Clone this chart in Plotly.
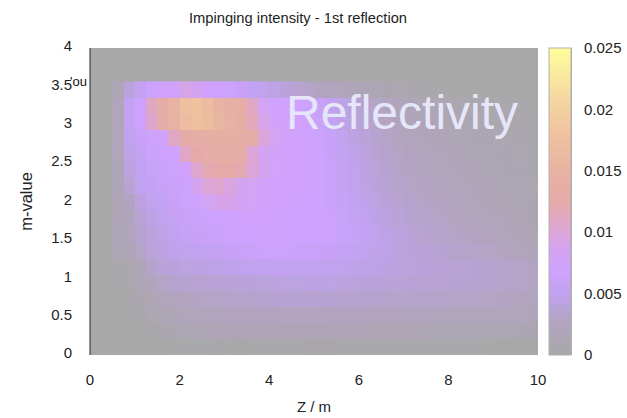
import plotly.graph_objects as go

x_values = [0.125 + 0.25 * i for i in range(40)]
y_values = [0.10, 0.31, 0.52, 0.73, 0.94, 1.15, 1.36, 1.57, 1.78, 1.99, 2.20, 2.41, 2.62, 2.83, 3.04, 3.25, 3.46]

# intensity in units of 0.001, listed from the top row down
r346 = [0,0,1.5,4,5.5,6.5,7,7.5,9,8.5,7,6.8,6.5,6,5.5,5,4.5,4,3.5,3,2.5,2.2,2,1.8,1.5,1.3,1.1,.9,.7,.5,.3,.2,.1,0,0,0,0,0,0,0]
r325 = [0,0,2,5.5,6.5,11,13,15,17.5,18,16.5,15,14.2,13.5,11,8,7.2,7,6.8,6.5,6,5.2,4.5,3.8,3.2,2.8,2.4,2,1.8,1.6,1.4,1.2,1,.9,.8,.7,.6,.5,.4,.3]
r304 = [0,0,2,5.5,6.5,10.5,13,14.5,16.5,17.5,17,15.5,14.5,14,11.5,9,7.5,7.2,7,6.7,6.2,5.5,4.8,4.1,3.5,3,2.6,2.3,2,1.8,1.6,1.4,1.2,1,.9,.8,.7,.6,.5,.4]
r283 = [0,0,2,5,6,6.5,7.5,11,12.5,13.5,14,14,14,13.5,13,10,8,7.4,7.1,6.9,6.4,5.8,5,4.4,3.8,3.3,2.9,2.5,2.2,2,1.8,1.6,1.4,1.2,1.1,1,.9,.8,.7,.5]
r262 = [0,0,2,4.5,5.5,6.2,6.5,6.8,11,12.5,13,13.5,13.5,13,10,8.5,7.6,7.2,7,7,6.6,6,5.4,4.8,4.2,3.6,3.2,2.8,2.5,2.3,2.1,1.9,1.7,1.5,1.3,1.2,1.1,1,.9,.7]
r241 = [0,0,1.8,4.2,5.2,5.8,6.2,6.5,7,10.5,12,12.5,12.5,12,10,8.5,7.8,7.4,7.1,7,6.7,6.2,5.6,5,4.4,3.8,3.4,3,2.7,2.5,2.3,2.1,1.9,1.7,1.5,1.4,1.3,1.1,1,.8]
r220 = [0,0,1.8,3.5,5,5.5,6,6.2,6.5,8.5,10,10.5,9.5,8.5,8,7.5,7.2,7,7,6.9,6.6,6.2,5.7,5.1,4.5,4,3.6,3.2,2.9,2.7,2.5,2.3,2.1,1.9,1.7,1.6,1.4,1.2,1.1,.9]
r199 = [0,0,1.6,2.5,4.2,5,5.5,6,6.4,6.7,8,8.8,8.8,8.2,7.8,7.4,7.1,7,6.9,6.8,6.6,6.3,5.9,5.4,4.9,4.3,3.9,3.5,3.2,2.9,2.7,2.5,2.3,2.1,1.9,1.8,1.6,1.4,1.2,1]
r178 = [0,0,1.5,2.2,3.6,4.5,5,5.6,6,6.2,6.4,6.6,6.9,7,7.1,7.1,7,6.9,6.8,6.8,6.6,6.4,6.1,5.7,5.2,4.7,4.2,3.8,3.4,3.2,3,2.8,2.6,2.4,2.2,2,1.9,1.7,1.4,1.1]
r157 = [0,0,1.3,2,3.2,4,4.5,5.2,5.6,5.8,6,6.2,6.5,6.7,6.8,6.9,6.9,6.9,6.8,6.7,6.6,6.4,6.1,5.8,5.4,5,4.6,4.2,3.8,3.5,3.3,3.1,2.9,2.7,2.5,2.4,2.2,2,1.7,1.4]
r136 = [0,0,1.2,1.8,2.8,3.8,4.4,4.8,5,5.2,5.4,5.6,5.8,6,6.2,6.4,6.5,6.5,6.3,6.2,6,5.8,5.6,5.3,5,4.8,4.5,4.2,4,3.8,3.6,3.4,3.2,3,2.9,2.8,2.6,2.4,2.1,1.8]
r115 = [0,0,.3,.8,1.8,3,3.8,4,4.3,4.4,4.5,4.6,4.8,5,5.1,5.2,5.3,5.3,5.3,5.3,5.2,5.1,5,4.9,4.7,4.6,4.4,4.2,4.1,3.9,3.8,3.7,3.6,3.5,3.4,3.3,3.2,3,2.8,2.5]
r094 = [0,0,.2,.7,1.4,2.2,2.8,3.2,3.4,3.5,3.6,3.7,3.8,3.9,4,4.1,4.2,4.3,4.3,4.4,4.4,4.3,4.2,4.1,4,3.9,3.8,3.8,3.7,3.6,3.6,3.5,3.4,3.4,3.3,3.2,3.1,3,2.8,2.6]
r073 = [0,0,.1,.4,.8,1.4,1.9,2.3,2.6,2.7,2.8,2.9,3,3.1,3.2,3.3,3.4,3.4,3.4,3.4,3.4,3.4,3.3,3.3,3.2,3.2,3.2,3.1,3.1,3,3,3,2.9,2.9,2.8,2.8,2.7,2.6,2.4,2.3]
r052 = [0,0,0,.2,.4,.9,1.3,1.6,1.9,2.1,2.2,2.3,2.4,2.4,2.5,2.5,2.5,2.6,2.6,2.6,2.6,2.5,2.5,2.5,2.5,2.4,2.4,2.4,2.3,2.3,2.3,2.2,2.2,2.2,2.1,2.1,2,2,1.9,1.8]
r031 = [0,0,0,0,.1,.4,.7,1,1.2,1.3,1.4,1.5,1.5,1.5,1.6,1.6,1.6,1.6,1.5,1.6,1.5,1.5,1.5,1.5,1.5,1.4,1.4,1.4,1.4,1.4,1.3,1.3,1.3,1.3,1.2,1.2,1.2,1.2,1.1,1]
r010 = [0,0,0,0,0,0,.1,.2,.3,.3,.2,.4,.2,.1,.2,.3,.3,.3,.3,.4,.4,.4,.3,.3,.3,.3,.3,.3,.3,.3,.2,.3,.3,.2,.3,.2,.1,.1,.1,0]

rows_top_down = [r346, r325, r304, r283, r262, r241, r220, r199, r178, r157, r136, r115, r094, r073, r052, r031, r010]
assert all(len(r) == 40 for r in rows_top_down)
z_values = [[v / 1000 for v in r] for r in reversed(rows_top_down)]

colorscale = [
    [0.00, "#a8a8a8"], [0.10, "#b2a4c0"], [0.20, "#c0a2ee"], [0.27, "#cfa2ff"],
    [0.34, "#d4a3f0"], [0.40, "#dca5d8"], [0.50, "#e5aaa8"], [0.60, "#e8b3a2"],
    [0.70, "#eec0a0"], [0.80, "#f3d0a0"], [0.90, "#f9e6a0"], [1.00, "#ffff99"],
]

FONT = "Liberation Sans, Arial, sans-serif"
INK = "#222222"
HIDDEN = "rgba(0,0,0,0)"
cbar_ticks = [0, 0.005, 0.01, 0.015, 0.02, 0.025]
cbar_labels = ["0", "0.005", "0.01", "0.015", "0.02", "0.025"]

fig = go.Figure(go.Heatmap(
    x=x_values, y=y_values, z=z_values, zmin=0, zmax=0.025,
    colorscale=colorscale,
    colorbar=dict(
        x=459 / 448, xanchor="left", xpad=0, y=0.5, yanchor="middle", ypad=0, len=1,
        thickness=22, outlinecolor="#b0b0b0", outlinewidth=1,
        tickvals=cbar_ticks, ticktext=cbar_labels, ticks="outside", ticklen=10,
        tickcolor=HIDDEN, tickfont=dict(family=FONT, size=15, color=INK),
    ),
))

fig.update_layout(
    width=627, height=418, autosize=False,
    margin=dict(l=90, r=89, t=48, b=63, autoexpand=False),
    paper_bgcolor="white", plot_bgcolor="#a8a8a8",
    font=dict(family=FONT, color=INK),
    title=dict(text="Impinging intensity - 1st reflection", x=298 / 627, xanchor="center",
               y=1 - 18 / 418, yanchor="middle", font=dict(size=14.7, color=INK)),
    xaxis=dict(range=[0, 10], tickvals=[0, 2, 4, 6, 8, 10], ticks="outside", ticklen=11, tickcolor=HIDDEN,
               showgrid=False, zeroline=False, tickfont=dict(size=15), automargin=False,
               title=dict(text="Z / m", font=dict(size=15), standoff=14)),
    yaxis=dict(range=[0, 4], tickvals=[0, 0.5, 1, 1.5, 2, 2.5, 3, 3.5, 4],
               ticktext=["0", "0.5", "1", "1.5", "2", "2.5", "3", "3.5", "4"],
               ticks="outside", ticklen=14, tickcolor=HIDDEN, showgrid=False, zeroline=False,
               tickfont=dict(size=15), automargin=False, ticklabelshift=-2,
               title=dict(text="m-value", font=dict(size=16.5), standoff=14)),
    annotations=[
        dict(text="Reflectivity", xref="x", yref="y", x=4.32, y=3.16, xanchor="left", yanchor="middle",
             showarrow=False, font=dict(size=48, color="#e6e6fa", family=FONT)),
        dict(text="'ou", xref="paper", yref="paper", x=-0.002, y=(355 - 81) / 307, xanchor="right",
             yanchor="middle", showarrow=False, font=dict(size=13, color="#111111", family=FONT)),
    ],
    shapes=[
        dict(type="line", xref="paper", yref="paper", x0=0, x1=0, y0=0, y1=1, line=dict(color=INK, width=1)),
        dict(type="line", xref="paper", yref="paper", x0=481 / 448, x1=481 / 448, y0=0, y1=1,
             line=dict(color="#555555", width=1)),
    ],
)

fig.write_html("out.html", config={"displayModeBar": False}, post_script="document.body.style.margin='0';")
